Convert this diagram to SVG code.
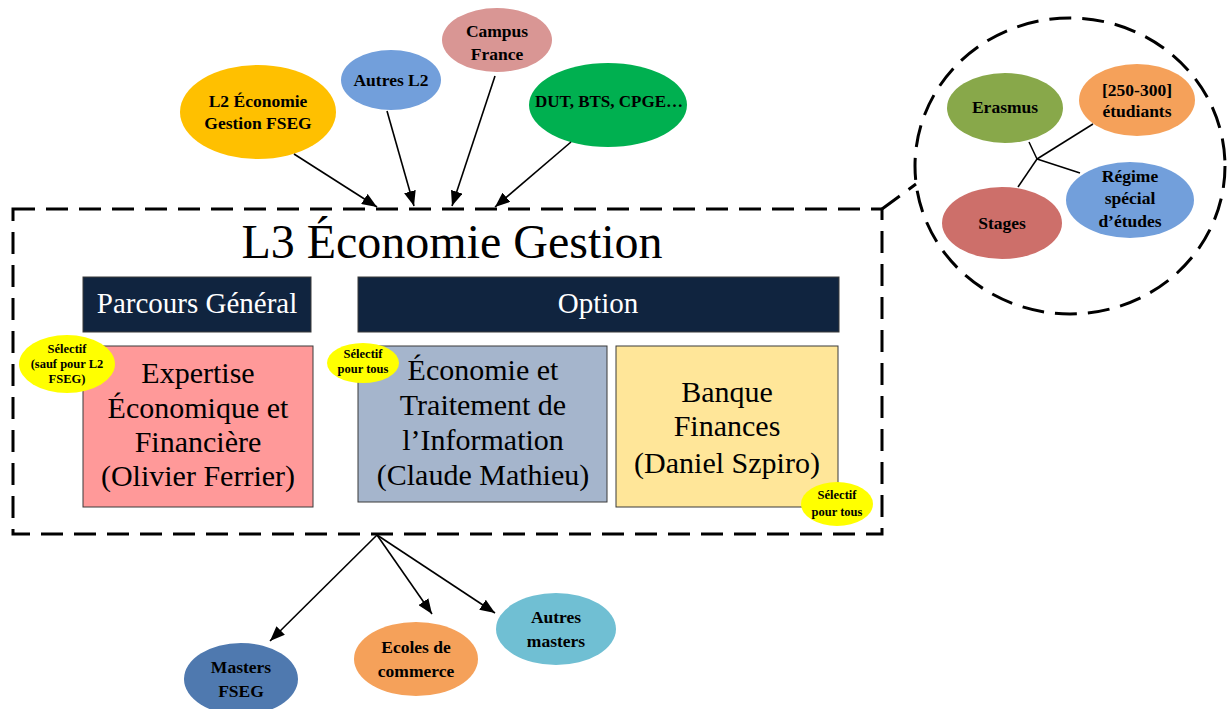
<svg xmlns="http://www.w3.org/2000/svg" width="1228" height="709" viewBox="0 0 1228 709">
<style>
text{font-family:"Liberation Serif","Times New Roman",serif;fill:#000;text-anchor:middle}
.lbl{font-weight:bold;font-size:17.5px}
.box{font-size:30px}
.hdr{font-size:29px;fill:#fff}
.badge{font-weight:bold;font-size:12.5px}
.dash{fill:none;stroke:#000;stroke-width:3;stroke-dasharray:22 11}
.conn{stroke:#000;stroke-width:1.5;fill:none}
.arr{stroke:#000;stroke-width:1.6;fill:none;marker-end:url(#ah)}
.rbox{stroke:#3a3a3a;stroke-width:1}
</style>
<defs>
<marker id="ah" markerUnits="userSpaceOnUse" markerWidth="16" markerHeight="12" refX="15" refY="6" orient="auto">
<path d="M0,0 L15,6 L0,12 z" fill="#000"/>
</marker>
</defs>
<rect width="1228" height="709" fill="#fff"/>

<g id="main-frame">
<rect class="dash" x="13" y="209" width="869" height="325"/>
<text x="452" y="258" style="font-size:48px">L3 Économie Gestion</text>
</g>

<g id="hdr-parcours">
<rect x="83" y="277" width="228" height="55" fill="#10243F" class="rbox"/>
<text class="hdr" x="197" y="313">Parcours Général</text>
</g>
<g id="hdr-option">
<rect x="358" y="277" width="481" height="55" fill="#10243F" class="rbox"/>
<text class="hdr" x="598" y="313">Option</text>
</g>

<g id="box-expertise">
<rect x="83" y="346" width="230" height="161" fill="#FF9999" class="rbox"/>
<text class="box" x="198" y="383">Expertise</text>
<text class="box" x="198" y="418">Économique et</text>
<text class="box" x="198" y="452">Financière</text>
<text class="box" x="198" y="486">(Olivier Ferrier)</text>
</g>
<g id="box-eti">
<rect x="358" y="346" width="249" height="156" fill="#A5B5CC" class="rbox"/>
<text class="box" x="483" y="380">Économie et</text>
<text class="box" x="483" y="415">Traitement de</text>
<text class="box" x="483" y="450">l’Information</text>
<text class="box" x="483" y="485">(Claude Mathieu)</text>
</g>
<g id="box-banque">
<rect x="616" y="346" width="222" height="161" fill="#FFE699" class="rbox"/>
<text class="box" x="727" y="402">Banque</text>
<text class="box" x="727" y="436">Finances</text>
<text class="box" x="727" y="473">(Daniel Szpiro)</text>
</g>

<g id="badge-1">
<ellipse cx="67" cy="364" rx="48" ry="29" fill="#FFFF00"/>
<text class="badge" x="67" y="353">Sélectif</text>
<text class="badge" x="67" y="368">(sauf pour L2</text>
<text class="badge" x="67" y="383">FSEG)</text>
</g>
<g id="badge-2">
<ellipse cx="363" cy="363" rx="36" ry="20" fill="#FFFF00"/>
<text class="badge" x="363" y="358">Sélectif</text>
<text class="badge" x="363" y="373">pour tous</text>
</g>
<g id="badge-3">
<ellipse cx="837" cy="504" rx="36" ry="22" fill="#FFFF00"/>
<text class="badge" x="837" y="499">Sélectif</text>
<text class="badge" x="837" y="516">pour tous</text>
</g>

<g id="node-l2">
<ellipse cx="258" cy="112" rx="78" ry="47" fill="#FFC000"/>
<text class="lbl" x="258" y="107">L2 Économie</text>
<text class="lbl" x="258" y="129">Gestion FSEG</text>
</g>
<g id="node-autres-l2">
<ellipse cx="391" cy="80" rx="50" ry="30" fill="#729FDB"/>
<text class="lbl" x="391" y="86">Autres L2</text>
</g>
<g id="node-campus">
<ellipse cx="497" cy="40" rx="55" ry="32" fill="#D99694"/>
<text class="lbl" x="497" y="37">Campus</text>
<text class="lbl" x="497" y="60">France</text>
</g>
<g id="node-dut">
<ellipse cx="608" cy="105" rx="79" ry="42" fill="#00B050"/>
<text class="lbl" x="609" y="107" style="font-size:17px">DUT, BTS, CPGE…</text>
</g>

<g id="circle-cluster">
<ellipse class="dash" cx="1070" cy="166" rx="155" ry="148"/>
</g>
<g id="node-erasmus">
<ellipse cx="1005" cy="108" rx="58" ry="35" fill="#88A84A"/>
<text class="lbl" x="1005" y="113">Erasmus</text>
</g>
<g id="node-etudiants">
<ellipse cx="1137" cy="100" rx="58" ry="36" fill="#F5A15A"/>
<text class="lbl" x="1137" y="96">[250-300]</text>
<text class="lbl" x="1137" y="117">étudiants</text>
</g>
<g id="node-regime">
<ellipse cx="1130" cy="200" rx="64" ry="38" fill="#729FDB"/>
<text class="lbl" x="1130" y="182">Régime</text>
<text class="lbl" x="1130" y="204">spécial</text>
<text class="lbl" x="1130" y="227">d’études</text>
</g>
<g id="node-stages">
<ellipse cx="1002" cy="223" rx="60" ry="36" fill="#CD6F6A"/>
<text class="lbl" x="1002" y="229">Stages</text>
</g>

<g id="node-masters-fseg">
<ellipse cx="241" cy="679" rx="57" ry="36" fill="#4F79AF"/>
<text class="lbl" x="241" y="673">Masters</text>
<text class="lbl" x="241" y="697">FSEG</text>
</g>
<g id="node-ecoles">
<ellipse cx="416" cy="659" rx="62" ry="37" fill="#F5A15A"/>
<text class="lbl" x="416" y="653">Ecoles de</text>
<text class="lbl" x="416" y="677">commerce</text>
</g>
<g id="node-autres-masters">
<ellipse cx="556" cy="629" rx="60" ry="36" fill="#70BFD3"/>
<text class="lbl" x="556" y="623">Autres</text>
<text class="lbl" x="556" y="647">masters</text>
</g>

<g id="connectors">
<line class="arr" x1="294" y1="154" x2="377" y2="207"/>
<line class="arr" x1="387" y1="111" x2="414" y2="206"/>
<line class="arr" x1="495" y1="76" x2="452" y2="206"/>
<line class="arr" x1="571" y1="142" x2="495" y2="207"/>
<line class="dash" x1="882" y1="209" x2="916" y2="184" stroke-dasharray="14 8"/>
<line class="conn" x1="1037" y1="159" x2="1029" y2="142"/>
<line class="conn" x1="1037" y1="159" x2="1093" y2="124"/>
<line class="conn" x1="1037" y1="159" x2="1080" y2="173"/>
<line class="conn" x1="1037" y1="159" x2="1018" y2="187"/>
<line class="arr" x1="377" y1="535" x2="270" y2="641"/>
<line class="arr" x1="377" y1="535" x2="432" y2="614"/>
<line class="arr" x1="377" y1="535" x2="495" y2="613"/>
</g>
</svg>
